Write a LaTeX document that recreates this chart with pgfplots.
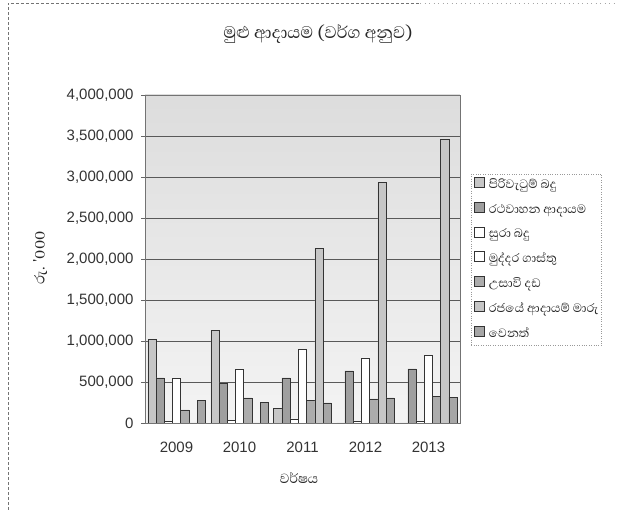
\documentclass[border=0pt]{standalone}
\usepackage{pgfplots}
\pgfplotsset{compat=1.18}
\usepackage{fontspec}
\setmainfont{Liberation Sans}
\newfontfamily\sinhalafont[Script=Sinhala]{Abhaya Libre}
\begin{document}
\begin{tikzpicture}[x=1pt,y=1pt]
\useasboundingbox (0,0) rectangle (621,510);
\draw[black!55, densely dashed, line width=0.5pt] (8,0) -- (8,507) -- (420,507);
\draw[black!35, loosely dotted, line width=0.5pt] (420,507) -- (615,507);
\begin{axis}[
  at={(145pt,87pt)}, anchor=south west,
  width=315pt, height=328pt, scale only axis,
  ybar=0pt, bar width=8.2pt,
  xmin=-0.5, xmax=4.5,
  ymin=0, ymax=4000000,
  xtick={0,1,2,3,4},
  xticklabels={2009,2010,2011,2012,2013},
  extra x ticks={0.5,1.5,2.5,3.5},
  extra x tick labels={},
  extra x tick style={major tick length=4pt, tick style={black!60}, grid=none},
  major x tick style={draw=none},
  ytick={0,500000,...,4000000},
  ymajorgrids, grid style={black!65, line width=0.7pt},
  tick align=outside, tick pos=left,
  major tick length=4pt,
  y tick style={black!60},
  axis line style={black!55},
  axis background/.style={shade, top color=gray!27, bottom color=gray!9},
  scaled y ticks=false,
  /pgf/number format/.cd, fixed, 1000 sep={,}, assume math mode=true,
  /pgfplots/.cd,
  every tick label/.append style={font=\fontsize{15}{17}\selectfont, text=black!80},
  xticklabel style={yshift=-11pt},
  yticklabel style={xshift=-4pt},
  title={\sinhalafont\fontsize{21.5}{24}\selectfont මුළු ආදායම (වර්ග අනුව)},
  title style={at={(axis description cs:0.549,1.168)}, anchor=center, text=black!85},
  xlabel={\sinhalafont\fontsize{17}{20}\selectfont වර්ෂය},
  xlabel style={at={(axis description cs:0.489,-0.168)}, anchor=center, text=black!85},
  ylabel={\sinhalafont\fontsize{18}{20}\selectfont රු. '000},
  ylabel style={at={(axis description cs:-0.333,0.503)}, anchor=center, rotate=0, text=black!85},
  legend style={at={(axis description cs:1.035,0.76)}, anchor=north west,
    draw=black!40, dotted, fill=none, font=\sinhalafont\fontsize{15.5}{18}\selectfont,
    row sep=8.5pt, inner xsep=3pt, inner ysep=3pt, text=black!85,
    nodes={solid, inner sep=0pt, text height=11pt, text depth=5pt},
    /tikz/every odd column/.style={column sep=4pt}},
  legend cell align=left,
  legend image code/.code={\draw[#1, solid] (0pt,-2pt) rectangle (10pt,8pt);},
  every axis plot/.append style={draw=black!80, line width=0.6pt},
]
\addplot[fill=gray!45] coordinates {(0,1020000) (1,1130000) (2,180000) (3,0) (4,0)};
\addplot[fill=gray!75] coordinates {(0,550000) (1,490000) (2,550000) (3,635000) (4,660000)};
\addplot[fill=white] coordinates {(0,20000) (1,35000) (2,50000) (3,25000) (4,25000)};
\addplot[fill=white] coordinates {(0,550000) (1,660000) (2,900000) (3,795000) (4,820000)};
\addplot[fill=gray!65] coordinates {(0,160000) (1,305000) (2,280000) (3,295000) (4,320000)};
\addplot[fill=gray!45] coordinates {(0,0) (1,0) (2,2130000) (3,2930000) (4,3460000)};
\addplot[fill=gray!70] coordinates {(0,280000) (1,255000) (2,245000) (3,305000) (4,315000)};
\legend{පිරිවැටුම් බදු, රථවාහන ආදායම, සුරා බදු, මුද්දර ගාස්තු, උසාවි දඩ, රජයේ ආදායම් මාරු, වෙනත්}
\end{axis}
\end{tikzpicture}
\end{document}
